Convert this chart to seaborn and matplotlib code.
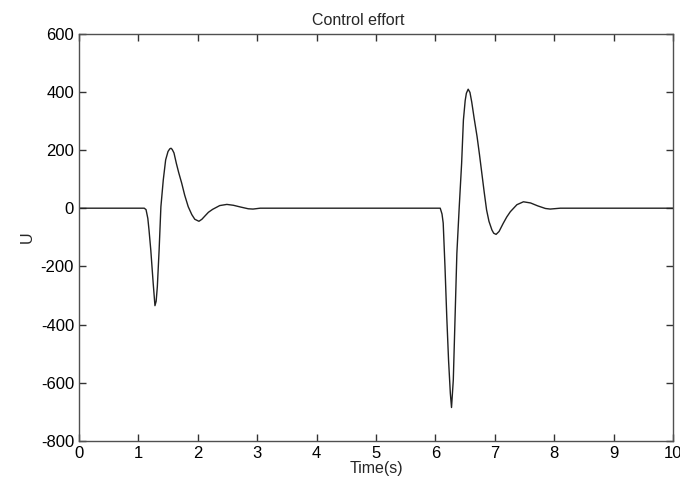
import numpy as np
import pandas as pd
import seaborn as sns
import matplotlib.pyplot as plt

# values
time_s = [0.0, 1.0, 1.1, 1.13, 1.16, 1.18, 1.21, 1.25, 1.28, 1.30, 1.32, 1.35, 1.38,
          1.42, 1.46, 1.50, 1.53, 1.55, 1.57, 1.60, 1.64, 1.68, 1.73, 1.78, 1.84,
          1.90, 1.95, 2.02, 2.07, 2.12, 2.18, 2.25, 2.37, 2.49, 2.60, 2.72, 2.85,
          2.93, 3.05, 6.0, 6.08, 6.11, 6.13, 6.16, 6.19, 6.22, 6.25, 6.27, 6.30,
          6.33, 6.36, 6.40, 6.44, 6.47, 6.50, 6.52, 6.55, 6.58, 6.61, 6.65, 6.70,
          6.74, 6.78, 6.82, 6.86, 6.90, 6.95, 6.98, 7.02, 7.07, 7.14, 7.20, 7.26,
          7.37, 7.48, 7.60, 7.72, 7.85, 7.93, 8.10, 10.0]
control_u = [0, 0, 0, -5, -35, -75, -144, -257, -335, -320, -270, -144, 5,
             97, 166, 195, 204, 206, 202, 190, 154, 122, 86, 45, 5,
             -22, -38, -45, -38, -27, -14, -4, 9, 13, 10, 4, -2,
             -3, 0, 0, 0, -20, -51, -201, -373, -522, -636, -685, -590,
             -373, -155, 5, 154, 303, 370, 395, 409, 398, 365, 310, 246,
             185, 120, 55, -6, -45, -75, -86, -90, -80, -52, -30, -12,
             12, 22, 18, 8, -1, -3, 0, 0]

df = pd.DataFrame({"t": time_s, "u": control_u})

sns.set_style("ticks")
plt.rcParams["font.family"] = ["Liberation Sans", "DejaVu Sans"]
plt.rcParams["axes.unicode_minus"] = False
fig = plt.figure(figsize=(6.8, 4.87), dpi=100)
ax = fig.add_axes([0.116, 0.0945, 0.874, 0.8365])
sns.lineplot(data=df, x="t", y="u", color="#202020", linewidth=1.0, ax=ax)

ax.set_xlim(0, 10)
ax.set_ylim(-800, 600)
ax.set_xticks(range(0, 11))
ax.set_yticks(range(-800, 601, 200))
ax.xaxis.set_ticks_position("both")
ax.yaxis.set_ticks_position("both")
ax.tick_params(direction="in", length=5, width=1.0, colors="#333333",
               labelcolor="black", labelsize=12)
for s in ax.spines.values():
    s.set_visible(True)
    s.set_color("#505050")
    s.set_linewidth(1.0)
ax.set_xlabel("Time(s)", fontsize=11.5, labelpad=0)
ax.set_ylabel("U", fontsize=11.5, labelpad=4)
ax.set_title("Control effort", fontsize=11.5, pad=6, x=0.47)
fig.savefig("out.png", dpi=100)
